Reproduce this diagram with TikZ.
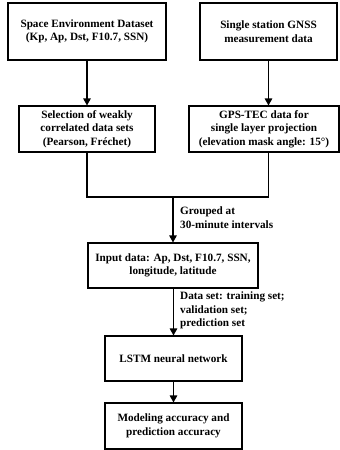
\documentclass[tikz,border=0pt]{standalone}
\usepackage{fontspec}
\setmainfont{Liberation Serif}
\usetikzlibrary{arrows.meta}
\begin{document}
\begin{tikzpicture}[x=1pt,y=-1pt,
  box/.style={draw, line width=1.1pt, align=center, inner sep=0pt,
    font=\fontsize{11.2}{13.6}\selectfont\bfseries},
  lbl/.style={align=left, anchor=west, inner sep=0pt,
    font=\fontsize{11.2}{13.6}\selectfont\bfseries},
  arr/.style={-{Triangle[length=7pt,width=7.5pt]}, line width=1.1pt},
  ln/.style={line width=1.1pt}]
\useasboundingbox (0,0) rectangle (340,450);

\node[box, minimum width=158pt, minimum height=57pt] (b1) at (87,31.5)
  {Space Environment Dataset\\(Kp, Ap, Dst, F10.7, SSN)};
\node[box, minimum width=137pt, minimum height=57pt] (b2) at (268.5,31.5)
  {Single station GNSS\\measurement data};
\node[box, minimum width=136pt, minimum height=46pt] (b3) at (87,129)
  {Selection of weakly\\correlated data sets\\(Pearson, Fréchet)};
\node[box, minimum width=150pt, minimum height=46pt] (b4) at (264,129)
  {GPS-TEC data for\\single layer projection\\(elevation mask angle: 15°)};
\node[box, minimum width=170pt, minimum height=45pt] (b5) at (173,265.5)
  {Input data: Ap, Dst, F10.7, SSN,\\longitude, latitude};
\node[box, minimum width=137pt, minimum height=45pt] (b6) at (173.5,358.5)
  {LSTM neural network};
\node[box, minimum width=137pt, minimum height=46pt] (b7) at (173.5,426)
  {Modeling accuracy and\\prediction accuracy};

\coordinate (jl) at (87,197);
\coordinate (jr) at (268.5,197);
\coordinate (jm) at (173,197);

\draw[arr] (b1.south) -- (b3.north);
\draw[arr] (b2.south) -- (b2.south |- b4.north);
\draw[ln] (b3.south) -- (jl) -- (jr) -- (b2.south |- b4.south);
\draw[arr] (jm) -- (jm |- b5.north);
\draw[arr] (b5.south -| b6.north) -- (b6.north);
\draw[arr] (b6.south) -- (b7.north);

\node[lbl] (g) at (180,217.5) {Grouped at\\30-minute intervals};
\node[lbl] (d) at (180,310.5) {Data set: training set;\\validation set;\\prediction set};
\end{tikzpicture}
\end{document}
